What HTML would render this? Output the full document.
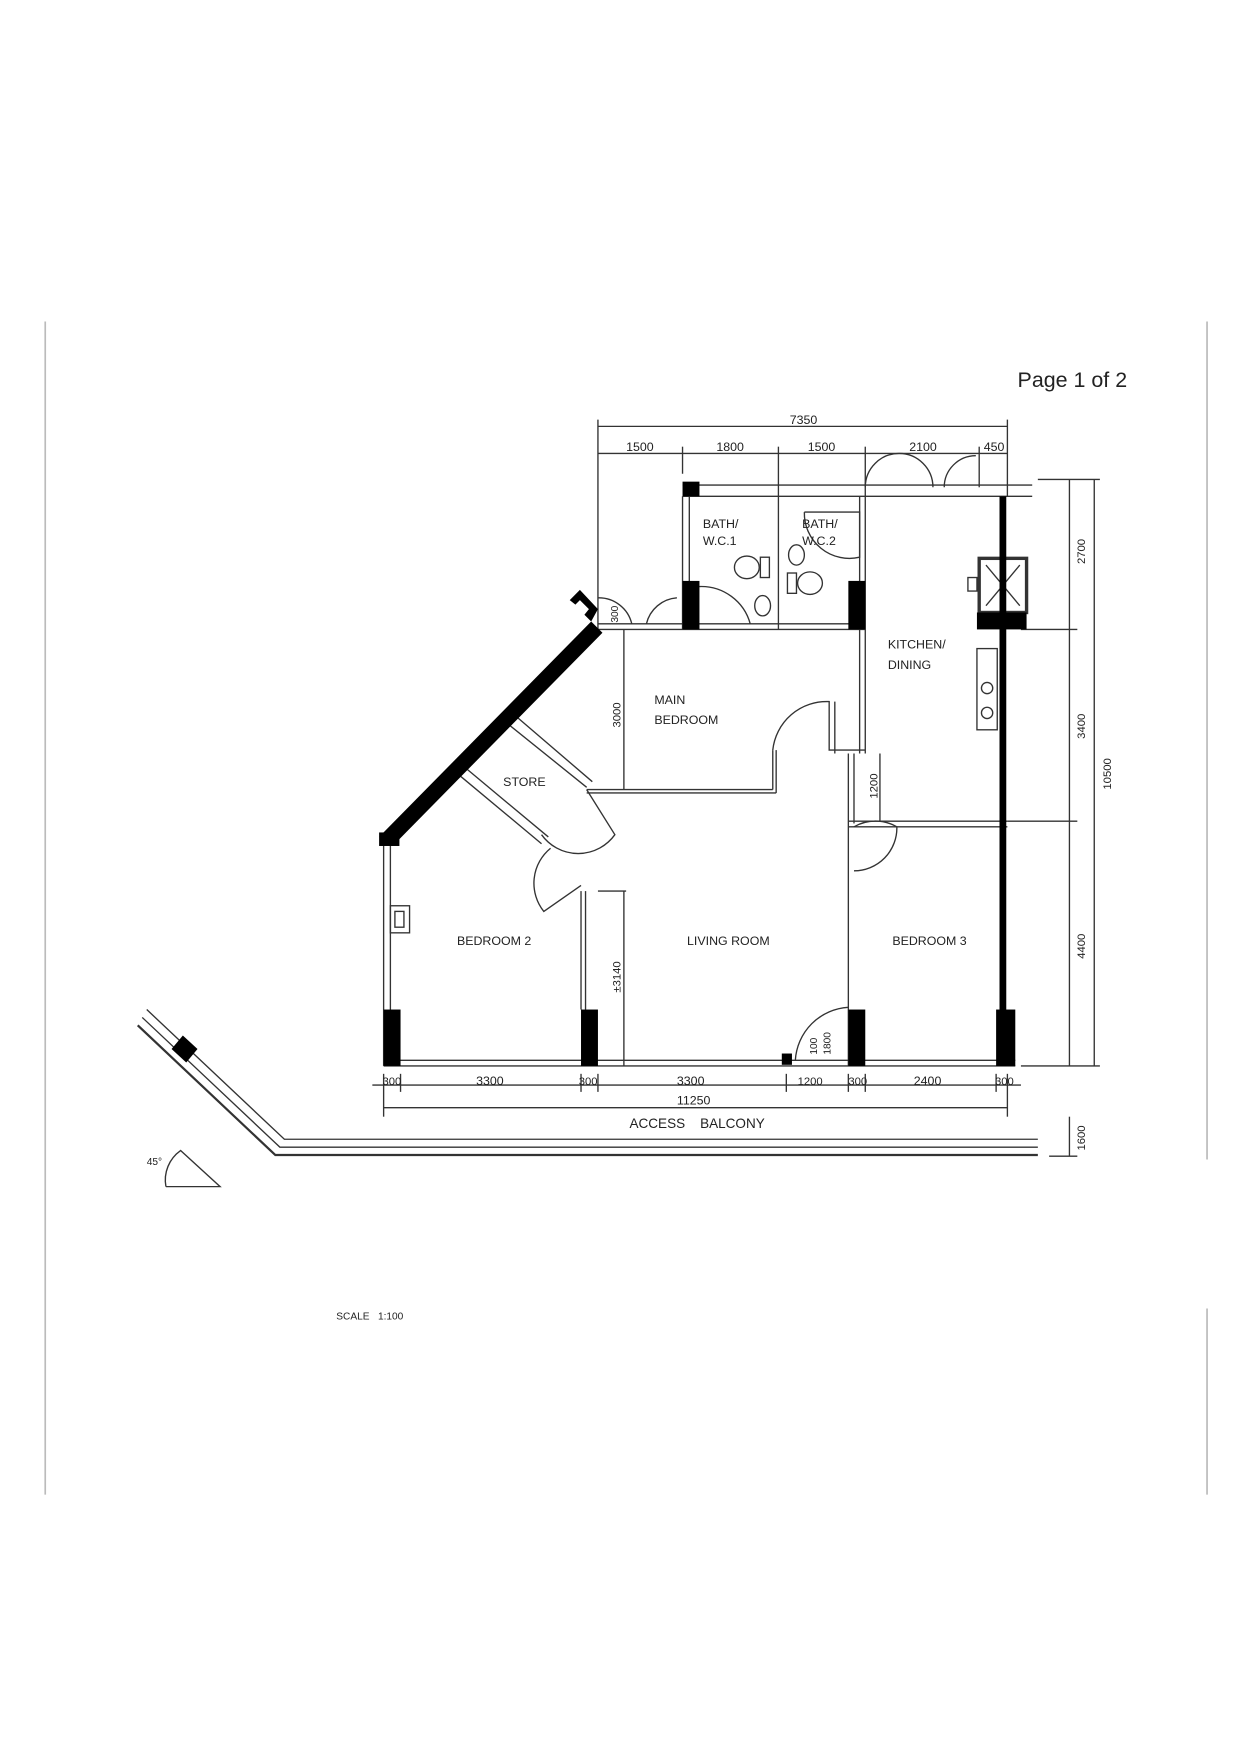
<!DOCTYPE html>
<html><head><meta charset="utf-8"><style>
html,body{margin:0;padding:0;background:#fff}
svg{display:block}
text{font-family:"Liberation Sans",sans-serif;fill:#222}
.s{font-size:11px;transform-origin:center}
</style></head><body>
<svg width="1241" height="1754" viewBox="0 0 1100 1555" xmlns="http://www.w3.org/2000/svg">
<g stroke="#bbb" stroke-width="1.5">
<line x1="40" y1="285" x2="40" y2="1325"/>
<line x1="1070" y1="285" x2="1070" y2="1028"/>
<line x1="1070" y1="1160" x2="1070" y2="1325"/>
</g>
<text x="902" y="343" style="font-size:19px">Page 1 of 2</text>
<g stroke="#333" stroke-width="1.2" fill="none">
<!-- top dims -->
<line x1="530" y1="378" x2="893" y2="378"/>
<line x1="530" y1="402" x2="893" y2="402"/>
<line x1="530" y1="372" x2="530" y2="558"/>
<line x1="893" y1="372" x2="893" y2="440"/>
<line x1="605" y1="396" x2="605" y2="420"/>
<line x1="690" y1="396" x2="690" y2="440"/>
<line x1="767" y1="396" x2="767" y2="440"/>
<line x1="868" y1="396" x2="868" y2="432"/>
<!-- top wall double line -->
<line x1="605" y1="430" x2="915" y2="430"/>
<line x1="605" y1="440" x2="915" y2="440"/>
<!-- window arcs top right -->
<path d="M767 432 A30 30 0 0 1 797 402 M827 432 A30 30 0 0 0 797 402 M837 432 A28 28 0 0 1 865 404"/>
<!-- bath walls -->
<line x1="605" y1="440" x2="605" y2="558"/>
<line x1="611" y1="440" x2="611" y2="558"/>
<line x1="690" y1="440" x2="690" y2="558"/>
<line x1="767" y1="440" x2="767" y2="668"/>
<line x1="762" y1="440" x2="762" y2="668"/>
<line x1="530" y1="558" x2="767" y2="558"/>
<line x1="530" y1="553" x2="767" y2="553"/>
<!-- bath fixtures -->
<ellipse cx="662" cy="503" rx="11" ry="10"/><rect x="674" y="494" width="8" height="18"/>
<ellipse cx="676" cy="537" rx="7" ry="9"/>
<ellipse cx="706" cy="492" rx="7" ry="9"/>
<ellipse cx="718" cy="517" rx="11" ry="10"/><rect x="698" y="508" width="8" height="18"/>
<path d="M620 520 A45 45 0 0 1 665 553"/>
<path d="M713 454 L762 454 L762 494 A40 40 0 0 1 713 454"/>
<!-- entry arcs -->
<path d="M530 530 A30 30 0 0 1 560 553 M573 553 A30 30 0 0 1 600 530"/>
<!-- store diag wall -->
<line x1="448" y1="640" x2="520" y2="698"/>
<line x1="455" y1="633" x2="525" y2="693"/>
<line x1="408" y1="688" x2="480" y2="748"/>
<line x1="414" y1="682" x2="486" y2="742"/>
<path d="M480 740 A40 40 0 0 0 545 740 L520 700"/>
<path d="M488 752 A40 40 0 0 0 482 808 L515 785"/>
<!-- main bedroom -->
<line x1="553" y1="558" x2="553" y2="700"/>
<line x1="520" y1="700" x2="685" y2="700"/>
<line x1="520" y1="703" x2="688" y2="703"/>
<line x1="685" y1="700" x2="685" y2="665"/>
<line x1="688" y1="703" x2="688" y2="665"/>
<path d="M685 665 A48 48 0 0 1 735 622 L735 665 L767 665"/>
<line x1="740" y1="622" x2="740" y2="668"/>
<!-- kitchen -->
<line x1="752" y1="668" x2="752" y2="945"/>
<line x1="757" y1="668" x2="757" y2="730"/>
<line x1="752" y1="728" x2="893" y2="728"/>
<line x1="752" y1="733" x2="893" y2="733"/>
<path d="M757 733 A38 38 0 0 1 795 733 A38 38 0 0 1 757 772"/>
<line x1="780" y1="668" x2="780" y2="728"/>
<!-- lift -->
<rect x="868" y="495" width="42" height="48" fill="#fff" stroke-width="3"/>
<line x1="874" y1="501" x2="904" y2="537"/><line x1="904" y1="501" x2="874" y2="537"/>
<rect x="858" y="512" width="8" height="12"/>
<rect x="866" y="575" width="18" height="72"/>
<circle cx="875" cy="610" r="5"/><circle cx="875" cy="632" r="5"/>
<!-- left wall -->
<line x1="340" y1="745" x2="340" y2="945"/>
<line x1="346" y1="745" x2="346" y2="945"/>
<rect x="346" y="803" width="17" height="24"/><rect x="350" y="808" width="8" height="14"/>
<!-- bed2 / living wall -->
<line x1="515" y1="790" x2="515" y2="895"/>
<line x1="519" y1="790" x2="519" y2="895"/>
<line x1="530" y1="790" x2="555" y2="790"/>
<line x1="553" y1="790" x2="553" y2="945"/>
<!-- bottom wall -->
<line x1="340" y1="940" x2="900" y2="940"/>
<line x1="340" y1="945" x2="900" y2="945"/>
<path d="M752 893 A50 50 0 0 0 705 940"/>
<!-- bottom dims -->
<line x1="330" y1="962" x2="905" y2="962"/>
<line x1="340" y1="982" x2="893" y2="982"/>
<g>
<line x1="340" y1="952" x2="340" y2="990"/><line x1="355" y1="952" x2="355" y2="968"/>
<line x1="515" y1="952" x2="515" y2="968"/><line x1="530" y1="952" x2="530" y2="968"/>
<line x1="697" y1="952" x2="697" y2="968"/><line x1="752" y1="952" x2="752" y2="968"/>
<line x1="767" y1="952" x2="767" y2="968"/><line x1="883" y1="952" x2="883" y2="968"/>
<line x1="893" y1="952" x2="893" y2="990"/>
</g>
<!-- balcony -->
<polyline points="130,895 252,1010 920,1010"/>
<polyline points="126,902 248,1017 920,1017"/>
<polyline points="122,909 244,1024 920,1024" stroke-width="2"/>
<!-- right dims -->
<line x1="948" y1="425" x2="948" y2="945"/>
<line x1="970" y1="425" x2="970" y2="945"/>
<line x1="920" y1="425" x2="975" y2="425"/>
<line x1="905" y1="558" x2="955" y2="558"/>
<line x1="893" y1="728" x2="955" y2="728"/>
<line x1="905" y1="945" x2="975" y2="945"/>
<line x1="948" y1="990" x2="948" y2="1025"/>
<line x1="930" y1="1025" x2="955" y2="1025"/>
<!-- angle -->
<path d="M147 1052 L195 1052 L160 1020 A32 32 0 0 0 147 1052"/>
</g>
<!-- black walls -->
<g fill="#000">
<rect x="605" y="427" width="15" height="13"/>
<rect x="605" y="515" width="15" height="43"/>
<rect x="752" y="515" width="15" height="43"/>
<rect x="866" y="543" width="44" height="15"/>
<rect x="886" y="440" width="6" height="505"/>
<polygon points="524,551 534,561 348,750 336,742"/>
<polygon points="505,532 514,523 530,540 524,551 518,545 522,540 514,532 510,536"/>
<rect x="336" y="738" width="18" height="12"/>
<rect x="340" y="895" width="15" height="50"/>
<rect x="515" y="895" width="15" height="50"/>
<rect x="752" y="895" width="15" height="50"/>
<rect x="883" y="895" width="17" height="50"/>
<rect x="693" y="934" width="9" height="10"/>
<polygon points="162,918 175,930 165,942 152,930"/>
</g>
<g style="font-size:11px">
<text x="700" y="376">7350</text>
<text x="555" y="400">1500</text><text x="635" y="400">1800</text><text x="716" y="400">1500</text>
<text x="806" y="400">2100</text><text x="872" y="400">450</text>
<text x="623" y="468">BATH/</text><text x="623" y="483">W.C.1</text>
<text x="711" y="468">BATH/</text><text x="711" y="483">W.C.2</text>
<text x="787" y="575">KITCHEN/</text><text x="787" y="593">DINING</text>
<text x="580" y="624">MAIN</text><text x="580" y="642">BEDROOM</text>
<text x="446" y="697">STORE</text>
<text x="405" y="838">BEDROOM 2</text>
<text x="609" y="838">LIVING ROOM</text>
<text x="791" y="838">BEDROOM 3</text>
<text x="339" y="962" style="font-size:10px">300</text><text x="422" y="962">3300</text>
<text x="513" y="962" style="font-size:10px">300</text><text x="600" y="962">3300</text>
<text x="707" y="962" style="font-size:10px">1200</text><text x="752" y="962" style="font-size:10px">300</text>
<text x="810" y="962">2400</text><text x="882" y="962" style="font-size:10px">300</text>
<text x="600" y="979">11250</text>
<text x="558" y="1000" style="font-size:12px">ACCESS&#160;&#160;&#160;&#160;BALCONY</text>
<text x="130" y="1033" style="font-size:9px">45°</text>
<text x="298" y="1170" style="font-size:9px">SCALE&#160;&#160;&#160;1:100</text>
<text transform="translate(962,500) rotate(-90)" style="font-size:10px">2700</text>
<text transform="translate(962,655) rotate(-90)" style="font-size:10px">3400</text>
<text transform="translate(985,700) rotate(-90)" style="font-size:10px">10500</text>
<text transform="translate(962,850) rotate(-90)" style="font-size:10px">4400</text>
<text transform="translate(962,1020) rotate(-90)" style="font-size:10px">1600</text>
<text transform="translate(550,645) rotate(-90)" style="font-size:10px">3000</text>
<text transform="translate(778,708) rotate(-90)" style="font-size:10px">1200</text>
<text transform="translate(550,880) rotate(-90)" style="font-size:10px">±3140</text>
<text transform="translate(548,552) rotate(-90)" style="font-size:9px">300</text>
<text transform="translate(724,935) rotate(-90)" style="font-size:9px">100</text>
<text transform="translate(736,935) rotate(-90)" style="font-size:9px">1800</text>
</g>
</svg>
</body></html>
